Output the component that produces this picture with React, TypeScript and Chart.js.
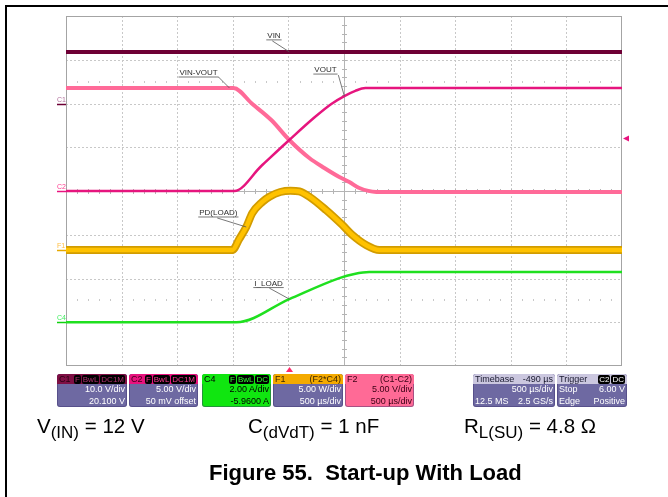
import React, { useEffect, useRef } from "react";
import { Chart, registerables } from "chart.js";

Chart.register(...registerables);

// ---- time axis (µs, relative to trigger), 500 µs/div, 10 divisions ----
const timeMin = -2010;
const timeMax = 2990;
const timePerDiv = 500;

// ---- C1: VIN (V) ----
const vinTime = [-2010, 2990];
const vinValues = [11.8, 11.8];

// ---- C2: VOUT (V) ----
const voutTime = [-2010, -496, -254, -2, 223, 376, 493, 592, 682, 2990];
const voutValues = [0, 0, 2.86, 5.83, 8.4, 9.95, 10.85, 11.45, 11.77, 11.77];

// ---- F2: VIN-VOUT (V) ----
const vdiffTime = [-2010, -505, -334, -164, -2, 178, 313, 448, 538, 628, 781, 2990];
const vdiffValues = [11.77, 11.77, 9.94, 8.11, 5.83, 3.77, 2.63, 1.6, 1.03, 0.34, -0.11, -0.11];

// ---- F1: PD(LOAD) (W) ----
const pdTime = [-2010, -514, -452, -389, -334, -245, -181, -83, 7, 88, 178, 328, 475, 565, 688, 808, 2990];
const pdValues = [0, 0, 1.26, 2.63, 4.23, 5.49, 6.09, 6.63, 6.78, 6.69, 6.09, 4.57, 2.86, 1.71, 0.57, 0, 0];

// ---- C4: I_LOAD (A) ----
const iloadTime = [-2010, -478, -2, 448, 583, 718, 2990];
const iloadValues = [0, 0, 1.06, 2.02, 2.21, 2.3, 2.3];

// ---- trigger ----
const triggerLevel = 6.0; // V on C2

// ---- info box texts ----
const c1Rows = [["", "10.0 V/div"], ["", "20.100 V"]];
const c2Rows = [["", "5.00 V/div"], ["", "50 mV offset"]];
const c4Rows = [["", "2.00 A/div"], ["", "-5.9600 A"]];
const f1Rows = [["", "5.00 W/div"], ["", "500 µs/div"]];
const f2Rows = [["", "5.00 V/div"], ["", "500 µs/div"]];
const tbRows = [["", "500 µs/div"], ["12.5 MS", "2.5 GS/s"]];
const trRows = [["Stop", "6.00 V"], ["Edge", "Positive"]];

const FONT = '"Liberation Sans", Arial, Helvetica, sans-serif';

function pts(t: number[], v: number[]) {
  return t.map((x, i) => ({ x, y: v[i] }));
}

const gridPlugin = {
  id: "scopeGrid",
  beforeDatasetsDraw(chart: any) {
    const { ctx, chartArea: a, scales } = chart;
    const xs = scales.x;
    const ys = scales.yC2;
    ctx.save();
    const xAt = (d: number) => Math.round(xs.getPixelForValue(timeMin + d * timePerDiv)) + 0.5;
    const yAt = (d: number) => Math.round(ys.getPixelForValue(-20 + d * 5)) + 0.5;
    ctx.lineWidth = 1;
    ctx.strokeStyle = "#c8c8c8";
    ctx.setLineDash([2, 2]);
    for (let i = 1; i < 10; i++) {
      if (i === 5) continue;
      const x = xAt(i);
      ctx.beginPath();
      ctx.moveTo(x, a.top);
      ctx.lineTo(x, a.bottom);
      ctx.stroke();
    }
    for (let j = 1; j < 8; j++) {
      if (j === 4) continue;
      const y = yAt(j);
      ctx.beginPath();
      ctx.moveTo(a.left, y);
      ctx.lineTo(a.right, y);
      ctx.stroke();
    }
    ctx.setLineDash([]);
    ctx.strokeStyle = "#b4b4b4";
    const xc = xAt(5);
    const yc = yAt(4);
    ctx.beginPath();
    ctx.moveTo(xc, a.top);
    ctx.lineTo(xc, a.bottom);
    ctx.moveTo(a.left, yc);
    ctx.lineTo(a.right, yc);
    ctx.stroke();
    // minor ticks on centre lines
    ctx.beginPath();
    for (let k = 1; k < 50; k++) {
      const x = Math.round(xs.getPixelForValue(timeMin + (k * timePerDiv) / 5)) + 0.5;
      ctx.moveTo(x, yc - 2.5);
      ctx.lineTo(x, yc + 2.5);
    }
    for (let k = 1; k < 40; k++) {
      const y = Math.round(ys.getPixelForValue(-20 + k)) + 0.5;
      ctx.moveTo(xc - 2.5, y);
      ctx.lineTo(xc + 2.5, y);
    }
    ctx.stroke();
    // faint tick rows
    ctx.strokeStyle = "#c8c8c8";
    ctx.beginPath();
    [6.5, 1.5].forEach((d) => {
      const y = Math.round(ys.getPixelForValue(-20 + d * 5));
      for (let k = 1; k < 50; k++) {
        const x = Math.round(xs.getPixelForValue(timeMin + (k * timePerDiv) / 5)) + 0.5;
        ctx.moveTo(x, y - 1);
        ctx.lineTo(x, y + 1);
      }
    });
    ctx.stroke();
    // border
    ctx.strokeStyle = "#a4a4a4";
    ctx.lineWidth = 1;
    ctx.strokeRect(Math.round(a.left) + 0.5, Math.round(a.top) + 0.5, Math.round(a.right - a.left) - 1, Math.round(a.bottom - a.top) - 1);
    ctx.restore();
  },
};

const annotPlugin = {
  id: "scopeAnnot",
  afterDatasetsDraw(chart: any) {
    const { ctx, chartArea: a, scales } = chart;
    const xs = scales.x;
    ctx.save();
    ctx.font = `8px ${FONT}`;
    ctx.textBaseline = "alphabetic";
    const label = (text: string, axis: string, t: number, v: number, tdx: number, tdy: number, ldx: number, ldy: number) => {
      const ax = xs.getPixelForValue(t);
      const ay = scales[axis].getPixelForValue(v);
      const tx = ax + tdx;
      const ty = ay + tdy;
      const w = ctx.measureText(text).width;
      ctx.fillStyle = "#2e2e2e";
      ctx.fillText(text, tx, ty);
      ctx.strokeStyle = "#555";
      ctx.lineWidth = 0.8;
      ctx.beginPath();
      ctx.moveTo(tx - 1, ty + 2);
      ctx.lineTo(tx + w + 1, ty + 2);
      ctx.moveTo(ax + ldx, ay + ldy);
      ctx.lineTo(ax, ay);
      ctx.stroke();
    };
    label("VIN", "yC1", -2, 11.8, -22, -14, -17, -11);
    label("VIN-VOUT", "yF2", -540, 11.77, -50, -13, -11, -11);
    label("VOUT", "yC2", 493, 10.85, -30, -24, -6, -21);
    label("PD(LOAD)", "yF1", -389, 2.63, -47, -12, -29, -9);
    label("I_LOAD", "yC4", -2, 1.06, -35, -13.5, -20, -11);

    // channel ground markers
    ctx.font = `7px ${FONT}`;
    const marker = (text: string, axis: string, textColor: string, lineColor: string) => {
      const y = Math.round(scales[axis].getPixelForValue(0)) + 0.5;
      ctx.fillStyle = textColor;
      ctx.fillText(text, a.left - 9, y - 2.5);
      ctx.strokeStyle = lineColor;
      ctx.lineWidth = 1.5;
      ctx.beginPath();
      ctx.moveTo(a.left - 9, y);
      ctx.lineTo(a.left, y);
      ctx.stroke();
    };
    marker("C1", "yC1", "#b0709c", "#6e0035");
    marker("C2", "yC2", "#ff3a8e", "#e8147f");
    marker("F1", "yF1", "#ffbe40", "#e6a800");
    marker("C4", "yC4", "#40ee60", "#10d010");

    // trigger level marker (right)
    const ty = scales.yC2.getPixelForValue(triggerLevel);
    ctx.fillStyle = "#e8147f";
    ctx.beginPath();
    ctx.moveTo(a.right + 1, ty);
    ctx.lineTo(a.right + 7, ty - 3);
    ctx.lineTo(a.right + 7, ty + 3);
    ctx.closePath();
    ctx.fill();
    // trigger position marker (bottom)
    const tx = xs.getPixelForValue(0);
    ctx.fillStyle = "#ff2a6a";
    ctx.beginPath();
    ctx.moveTo(tx, a.bottom + 1);
    ctx.lineTo(tx - 3.5, a.bottom + 6);
    ctx.lineTo(tx + 3.5, a.bottom + 6);
    ctx.closePath();
    ctx.fill();
    ctx.restore();
  },
};

function Tag({ text, color }: { text: string; color: string }) {
  return (
    <span
      style={{
        background: "#000",
        color,
        borderRadius: 2,
        padding: "0 1px",
        marginLeft: 1,
        fontSize: 8,
        lineHeight: "9px",
        display: "inline-block",
      }}
    >
      {text}
    </span>
  );
}

function InfoBox(props: {
  left: number;
  width: number;
  headBg: string;
  headColor: string;
  bodyBg: string;
  bodyColor: string;
  headLeft: React.ReactNode;
  headRight: React.ReactNode;
  rows: string[][];
}) {
  const { left, width, headBg, headColor, bodyBg, bodyColor, headLeft, headRight, rows } = props;
  return (
    <div
      style={{
        position: "absolute",
        left,
        top: 374,
        width,
        height: 33,
        borderRadius: 3,
        overflow: "hidden",
        background: bodyBg,
        fontFamily: FONT,
        fontSize: 9,
        boxShadow: "inset 0 0 0 1px rgba(60,50,110,0.45)",
      }}
    >
      <div
        style={{
          height: 10,
          background: headBg,
          color: headColor,
          display: "flex",
          justifyContent: "space-between",
          alignItems: "center",
          padding: "0 2px",
          lineHeight: "10px",
          whiteSpace: "nowrap",
        }}
      >
        <span>{headLeft}</span>
        <span>{headRight}</span>
      </div>
      {rows.map((r, i) => (
        <div
          key={i}
          style={{
            height: 11.5,
            lineHeight: "11.5px",
            color: bodyColor,
            display: "flex",
            justifyContent: "space-between",
            padding: "0 2px",
            whiteSpace: "nowrap",
          }}
        >
          <span>{r[0]}</span>
          <span>{r[1]}</span>
        </div>
      ))}
    </div>
  );
}

const subStyle: React.CSSProperties = { fontSize: 17, verticalAlign: "-5px", lineHeight: 0 };
const eqStyle: React.CSSProperties = {
  position: "absolute",
  top: 416,
  fontFamily: FONT,
  fontSize: 20.5,
  lineHeight: "20px",
  color: "#000",
  whiteSpace: "nowrap",
};

export default function App() {
  const canvasRef = useRef<HTMLCanvasElement | null>(null);

  useEffect(() => {
    document.body.style.margin = "0";
    const canvas = canvasRef.current;
    if (!canvas) return;
    const chart = new Chart(canvas, {
      type: "line",
      data: {
        // Chart.js paints the first dataset on top
        datasets: [
          { label: "PD(LOAD)", data: pts(pdTime, pdValues), yAxisID: "yF1", borderColor: "#ffc200", borderWidth: 4.5 },
          { label: "PD(LOAD) band", data: pts(pdTime, pdValues), yAxisID: "yF1", borderColor: "#d29c00", borderWidth: 8 },
          { label: "I_LOAD", data: pts(iloadTime, iloadValues), yAxisID: "yC4", borderColor: "#1fe01f", borderWidth: 2.5 },
          { label: "VOUT", data: pts(voutTime, voutValues), yAxisID: "yC2", borderColor: "#e6157e", borderWidth: 2.5 },
          { label: "VIN-VOUT", data: pts(vdiffTime, vdiffValues), yAxisID: "yF2", borderColor: "#ff6a98", borderWidth: 4 },
          { label: "VIN", data: pts(vinTime, vinValues), yAxisID: "yC1", borderColor: "#6e0035", borderWidth: 4 },
        ] as any,
      },
      options: {
        responsive: false,
        animation: false,
        devicePixelRatio: 1,
        layout: { padding: { left: 66, top: 16, right: 46, bottom: 131 } },
        plugins: { legend: { display: false }, tooltip: { enabled: false } },
        elements: {
          point: { radius: 0 },
          line: { cubicInterpolationMode: "monotone", borderJoinStyle: "round", fill: false },
        },
        scales: {
          x: { type: "linear", min: timeMin, max: timeMax, display: false },
          yC1: { type: "linear", min: -60, max: 20, display: false },
          yC2: { type: "linear", min: -20, max: 20, display: false },
          yF2: { type: "linear", min: -20, max: 20, display: false },
          yF1: { type: "linear", min: -13.257, max: 26.743, display: false },
          yC4: { type: "linear", min: -2, max: 14, display: false },
        },
      } as any,
      plugins: [gridPlugin, annotPlugin],
    });
    return () => chart.destroy();
  }, []);

  const purple = "#6e69a2";
  const lav = "#cbc7df";

  return (
    <div style={{ position: "relative", width: 668, height: 497, overflow: "hidden", background: "#fff" }}>
      <canvas ref={canvasRef} width={668} height={497} style={{ position: "absolute", left: 0, top: 0, display: "block" }} />
      <div
        style={{
          position: "absolute",
          left: 5,
          top: 5,
          width: 700,
          height: 600,
          borderLeft: "2px solid #000",
          borderTop: "2px solid #000",
        }}
      />
      <InfoBox
        left={57}
        width={70}
        headBg="#7e0f44"
        headColor="#2a0012"
        bodyBg={purple}
        bodyColor="#fff"
        headLeft="C1"
        headRight={
          <>
            <Tag text="F" color="#b03070" />
            <Tag text="BwL" color="#b03070" />
            <Tag text="DC1M" color="#b03070" />
          </>
        }
        rows={c1Rows}
      />
      <InfoBox
        left={129}
        width={69}
        headBg="#e8127e"
        headColor="#3a0018"
        bodyBg={purple}
        bodyColor="#fff"
        headLeft="C2"
        headRight={
          <>
            <Tag text="F" color="#ff3a96" />
            <Tag text="BwL" color="#ff3a96" />
            <Tag text="DC1M" color="#ff3a96" />
          </>
        }
        rows={c2Rows}
      />
      <InfoBox
        left={202}
        width={69}
        headBg="#10e610"
        headColor="#000"
        bodyBg="#10e610"
        bodyColor="#000"
        headLeft="C4"
        headRight={
          <>
            <Tag text="F" color="#30ff30" />
            <Tag text="BwL" color="#30ff30" />
            <Tag text="DC" color="#30ff30" />
          </>
        }
        rows={c4Rows}
      />
      <InfoBox
        left={273}
        width={70}
        headBg="#f4aa00"
        headColor="#3a2400"
        bodyBg={purple}
        bodyColor="#fff"
        headLeft="F1"
        headRight="(F2*C4)"
        rows={f1Rows}
      />
      <InfoBox
        left={345}
        width={69}
        headBg="#ff6a96"
        headColor="#3a0014"
        bodyBg="#ff6a96"
        bodyColor="#3a0014"
        headLeft="F2"
        headRight="(C1-C2)"
        rows={f2Rows}
      />
      <InfoBox
        left={473}
        width={82}
        headBg={lav}
        headColor="#1a1a30"
        bodyBg={purple}
        bodyColor="#fff"
        headLeft="Timebase"
        headRight="-490 µs"
        rows={tbRows}
      />
      <InfoBox
        left={557}
        width={70}
        headBg={lav}
        headColor="#1a1a30"
        bodyBg={purple}
        bodyColor="#fff"
        headLeft="Trigger"
        headRight={
          <>
            <Tag text="C2" color="#fff" />
            <Tag text="DC" color="#fff" />
          </>
        }
        rows={trRows}
      />

      <div style={{ ...eqStyle, left: 37 }}>
        V<sub style={subStyle}>(IN)</sub> = 12 V
      </div>
      <div style={{ ...eqStyle, left: 248 }}>
        C<sub style={subStyle}>(dVdT)</sub> = 1 nF
      </div>
      <div style={{ ...eqStyle, left: 464 }}>
        R<sub style={subStyle}>L(SU)</sub> = 4.8 Ω
      </div>
      <div
        style={{
          position: "absolute",
          left: 209,
          top: 462,
          fontFamily: FONT,
          fontSize: 22,
          fontWeight: 700,
          lineHeight: "22px",
          color: "#000",
          whiteSpace: "pre",
        }}
      >
        {"Figure 55.  Start-up With Load"}
      </div>
    </div>
  );
}
